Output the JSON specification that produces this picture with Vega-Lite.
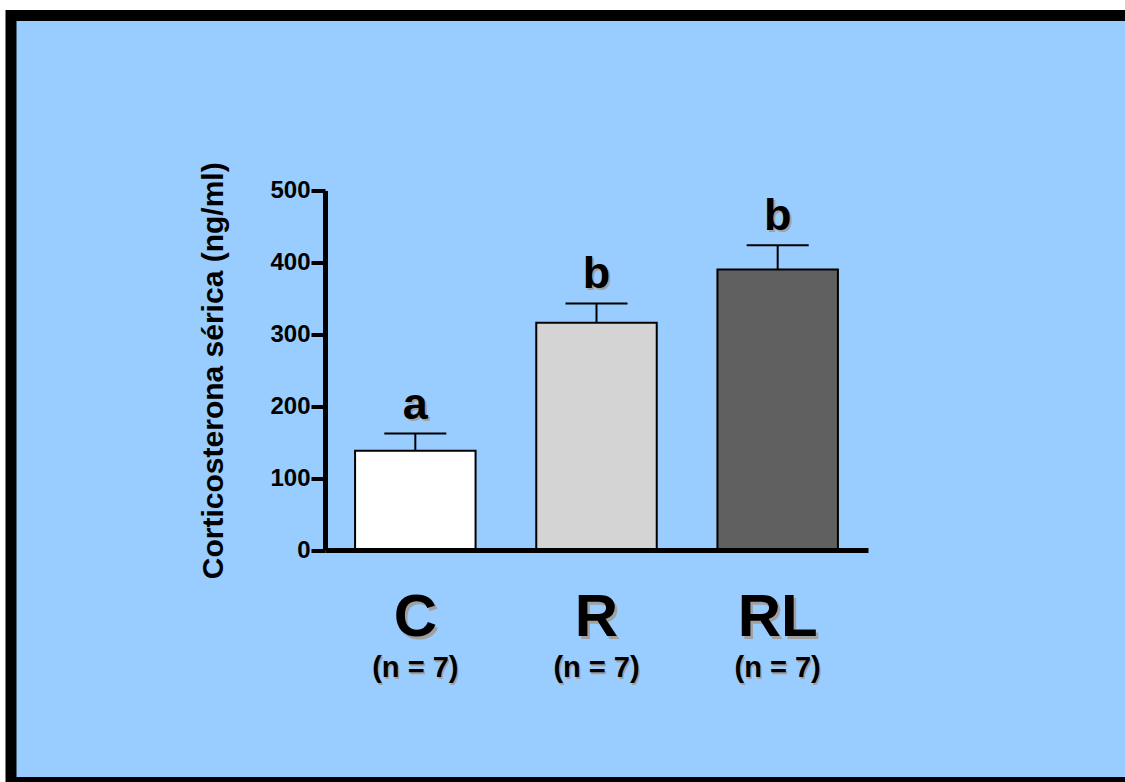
{
  "$schema": "https://vega.github.io/schema/vega-lite/v6.json",
  "autosize": {"type": "none"},
  "width": 1120,
  "height": 767,
  "padding": {"left": 11, "top": 15.5, "right": -6, "bottom": -0.5},
  "background": "white",
  "view": {"fill": "#99CCFF", "stroke": "black", "strokeWidth": 11},
  "config": {
    "font": "Liberation Sans",
    "text": {"font": "Liberation Sans", "fontWeight": "bold", "align": "center", "baseline": "alphabetic"}
  },
  "data": {
    "values": [
      {"grupo": "C", "media": 138, "superior": 162, "letra": "a", "n": "(n = 7)"},
      {"grupo": "R", "media": 316, "superior": 343, "letra": "b", "n": "(n = 7)"},
      {"grupo": "RL", "media": 390, "superior": 424, "letra": "b", "n": "(n = 7)"}
    ]
  },
  "encoding": {
    "x": {
      "field": "grupo",
      "type": "nominal",
      "sort": ["C", "R", "RL"],
      "scale": {"range": [314, 857], "paddingInner": 0.335, "paddingOuter": 0.166},
      "axis": {
        "orient": "bottom",
        "offset": -232.5,
        "labels": false,
        "ticks": false,
        "title": null,
        "domainColor": "black",
        "domainWidth": 5,
        "zindex": 1
      }
    }
  },
  "layer": [
    {
      "mark": {"type": "bar", "stroke": "black", "strokeWidth": 2},
      "encoding": {
        "y": {
          "field": "media",
          "type": "quantitative",
          "scale": {"domain": [0, 500], "range": [534.5, 175]},
          "axis": {
            "orient": "left",
            "offset": -314,
            "values": [0, 100, 200, 300, 400, 500],
            "grid": false,
            "title": "Corticosterona sérica (ng/ml)",
            "titleFont": "Liberation Sans",
            "titleFontSize": 30,
            "titleFontWeight": "bold",
            "titleColor": "black",
            "titlePadding": 41,
            "labelFont": "Liberation Sans",
            "labelFontSize": 24,
            "labelFontWeight": "bold",
            "labelColor": "black",
            "labelPadding": 1,
            "tickSize": 14,
            "tickWidth": 4,
            "tickColor": "black",
            "domainColor": "black",
            "domainWidth": 5,
            "zindex": 1
          }
        },
        "fill": {
          "field": "grupo",
          "type": "nominal",
          "scale": {"domain": ["C", "R", "RL"], "range": ["#FFFFFF", "#D4D4D4", "#606060"]},
          "legend": null
        }
      }
    },
    {
      "mark": {"type": "rule", "color": "black", "strokeWidth": 2},
      "encoding": {
        "y": {"field": "media", "type": "quantitative"},
        "y2": {"field": "superior"}
      }
    },
    {
      "mark": {"type": "tick", "orient": "horizontal", "size": 62, "thickness": 2, "color": "black", "opacity": 1},
      "encoding": {
        "y": {"field": "superior", "type": "quantitative"}
      }
    },
    {
      "mark": {"type": "text", "fontSize": 45, "color": "#A0A0A0", "dx": 2, "dy": -13},
      "encoding": {
        "y": {"field": "superior", "type": "quantitative"},
        "text": {"field": "letra"}
      }
    },
    {
      "mark": {"type": "text", "fontSize": 45, "color": "black", "dy": -15},
      "encoding": {
        "y": {"field": "superior", "type": "quantitative"},
        "text": {"field": "letra"}
      }
    },
    {
      "mark": {"type": "text", "fontSize": 60, "color": "#A0A0A0", "dx": 2.5, "dy": 88.5},
      "encoding": {
        "y": {"datum": 0, "type": "quantitative"},
        "text": {"field": "grupo"}
      }
    },
    {
      "mark": {"type": "text", "fontSize": 60, "color": "black", "dy": 86},
      "encoding": {
        "y": {"datum": 0, "type": "quantitative"},
        "text": {"field": "grupo"}
      }
    },
    {
      "mark": {"type": "text", "fontSize": 29, "color": "#A0A0A0", "dx": 1.5, "dy": 128.5},
      "encoding": {
        "y": {"datum": 0, "type": "quantitative"},
        "text": {"field": "n"}
      }
    },
    {
      "mark": {"type": "text", "fontSize": 29, "color": "black", "dy": 127},
      "encoding": {
        "y": {"datum": 0, "type": "quantitative"},
        "text": {"field": "n"}
      }
    }
  ]
}
